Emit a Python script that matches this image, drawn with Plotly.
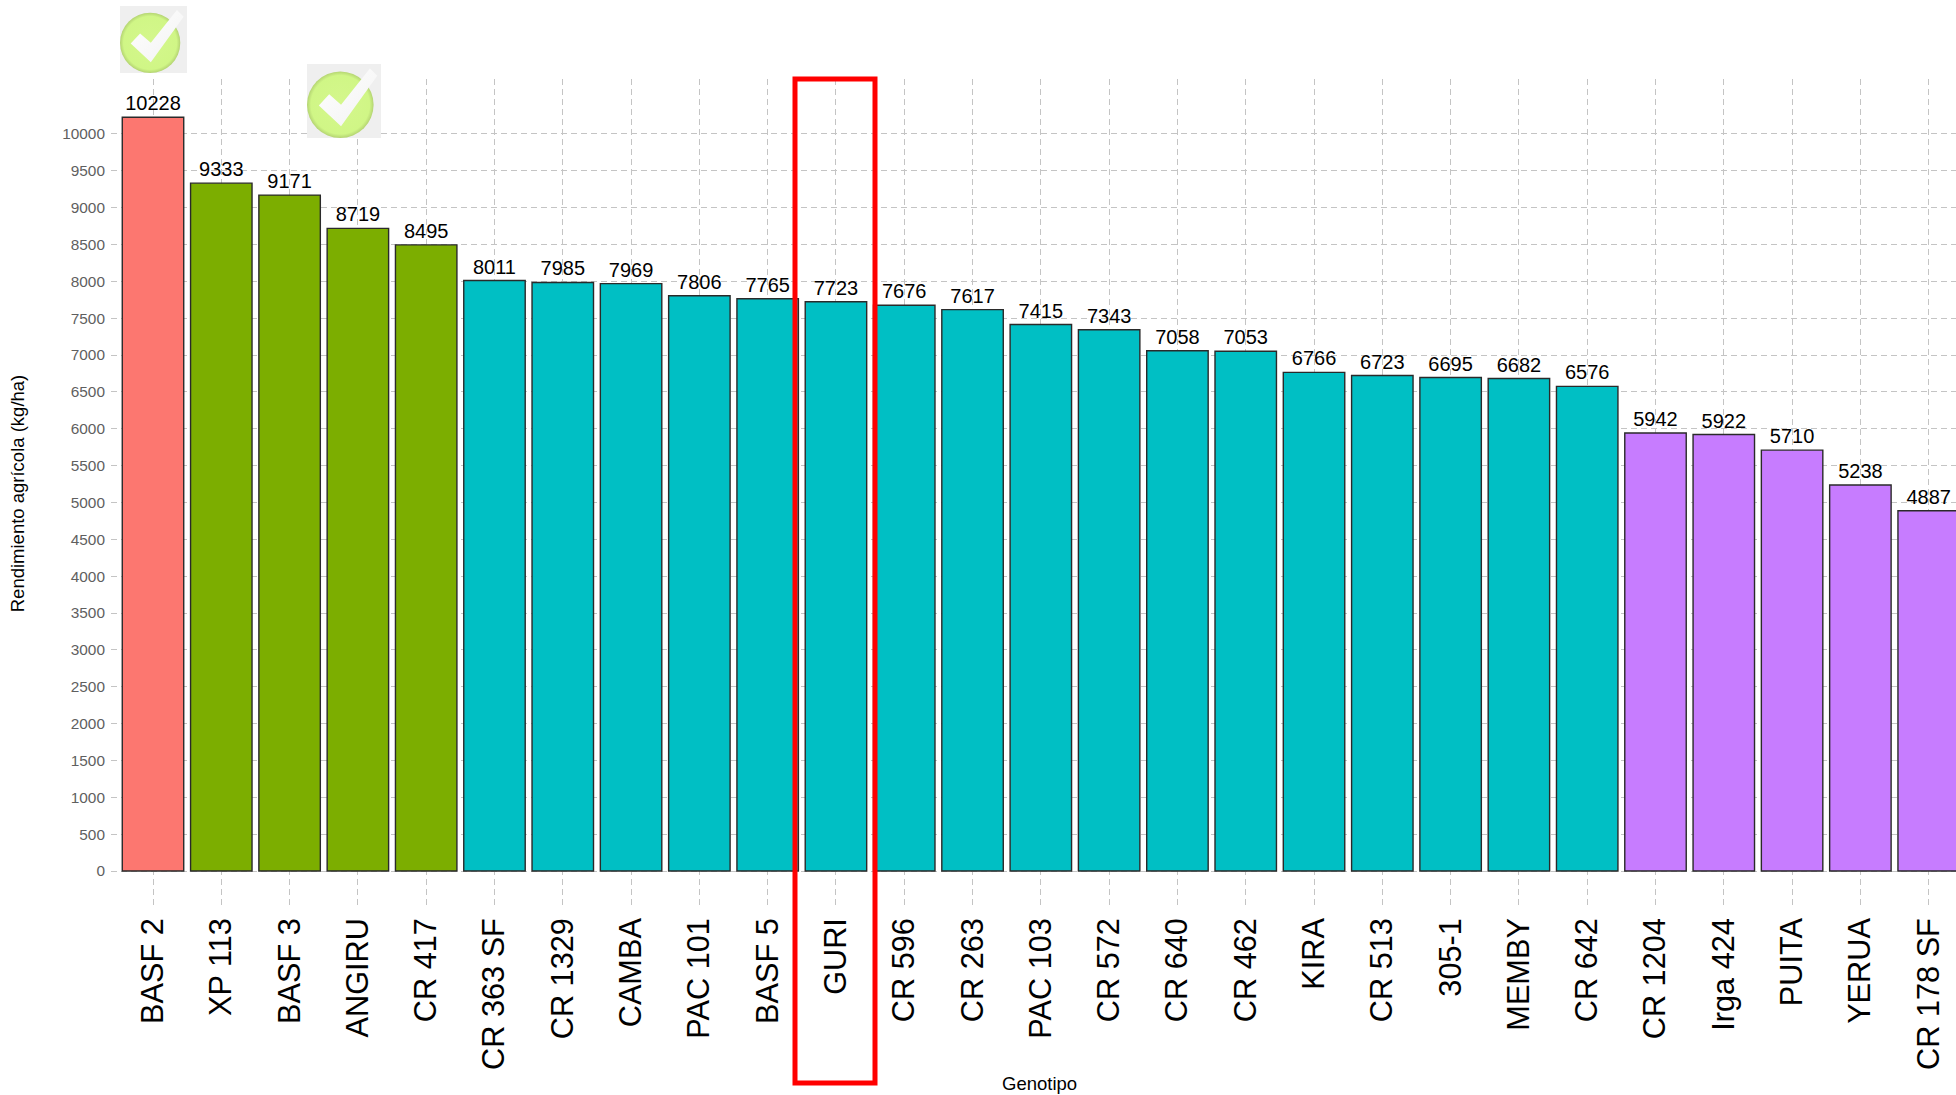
import base64
import plotly.graph_objects as go

categories = ["BASF 2","XP 113","BASF 3","ANGIRU","CR 417","CR 363 SF","CR 1329","CAMBA","PAC 101","BASF 5",
              "GURI","CR 596","CR 263","PAC 103","CR 572","CR 640","CR 462","KIRA","CR 513","305-1",
              "MEMBY","CR 642","CR 1204","Irga 424","PUITA","YERUA","CR 178 SF"]
values = [10228,9333,9171,8719,8495,8011,7985,7969,7806,7765,
          7723,7676,7617,7415,7343,7058,7053,6766,6723,6695,
          6682,6576,5942,5922,5710,5238,4887]
groups = ["a"] + ["b"]*4 + ["c"]*17 + ["d"]*5
group_colors = {"a":"#FC7770","b":"#7CAE00","c":"#00BFC4","d":"#C77CFF"}
y_ticks = list(range(0, 10001, 500))

W, H = 1956, 1095
L, R, T, B = 111, 0, 79, 187

CHECK_SVG = """<svg xmlns='http://www.w3.org/2000/svg' width='100' height='100' viewBox='0 0 100 100'>
<defs><radialGradient id='g' cx='50%' cy='50%' r='50%'>
<stop offset='0%' stop-color='#d4f78c'/><stop offset='88%' stop-color='#d0f686'/><stop offset='100%' stop-color='#b4d472'/></radialGradient>
<linearGradient id='w' x1='0' y1='0' x2='1' y2='1'><stop offset='0%' stop-color='#ffffff'/><stop offset='70%' stop-color='#f6f6f6'/><stop offset='100%' stop-color='#cfcfcf'/></linearGradient></defs>
<rect width='100' height='100' fill='#efefef'/>
<circle cx='45' cy='55' r='45' fill='url(#g)'/>
<path d='M16 56 L30 41 L46 55 L85 6 L95 16 L46 84 Z' fill='url(#w)'/>
</svg>"""
check_uri = "data:image/svg+xml;base64," + base64.b64encode(CHECK_SVG.encode()).decode()

def px_x(v): return (v - L) / (W - L - R)
def px_y(v): return 1 - (v - T) / (H - T - B)

fig = go.Figure(go.Bar(
    x=categories, y=values,
    width=0.9,
    marker=dict(color=[group_colors[g] for g in groups], line=dict(color="#2a2a2a", width=1.4)),
    text=[str(v) for v in values],
    textposition="outside",
    textangle=0,
    textfont=dict(family="Liberation Sans", size=20, color="#000000"),
    cliponaxis=False,
    showlegend=False,
))

grid = dict(showgrid=True, gridcolor="#c4c4c4", gridwidth=1, griddash="6px,4px", zeroline=False, showline=False)

fig.update_xaxes(
    type="category", categoryorder="array", categoryarray=categories,
    range=[-0.615, 26.4], tickangle=-90, ticks="", ticklabelstandoff=3,
    tickfont=dict(family="Liberation Sans", size=30.7, color="#000000"), **grid)
fig.update_yaxes(
    range=[-502, 10746], tickmode="array", tickvals=y_ticks, ticktext=[str(t) for t in y_ticks],
    ticks="", ticklabelstandoff=5, tickfont=dict(family="Liberation Sans", size=15.4, color="#5f5f5f"),
    title=dict(text="Rendimiento agrícola (kg/ha)", font=dict(family="Liberation Sans", size=18.5, color="#000000"), standoff=32),
    automargin=False, **grid)

fig.update_layout(
    width=W, height=H, autosize=False,
    margin=dict(l=L, r=R, t=T, b=B, pad=0),
    paper_bgcolor="#ffffff", plot_bgcolor="#ffffff",
    annotations=[dict(text="Genotipo", xref="paper", yref="paper", x=px_x(1039), y=px_y(1083),
                      xanchor="center", yanchor="middle", showarrow=False,
                      font=dict(family="Liberation Sans", size=18.5, color="#000000"))],
    shapes=[dict(type="rect", xref="paper", yref="paper", x0=px_x(795), x1=px_x(875), y0=px_y(1083), y1=px_y(79),
                 line=dict(color="#FF0000", width=5), fillcolor="rgba(0,0,0,0)", layer="above")],
    images=[
        dict(source=check_uri, xref="paper", yref="paper", x=px_x(120), y=px_y(6), sizex=67/(W-L-R), sizey=67/(H-T-B),
             xanchor="left", yanchor="top", sizing="stretch", layer="above"),
        dict(source=check_uri, xref="paper", yref="paper", x=px_x(307), y=px_y(64), sizex=74/(W-L-R), sizey=74/(H-T-B),
             xanchor="left", yanchor="top", sizing="stretch", layer="above"),
    ],
)

fig.write_html("out.html", config={"displayModeBar": False},
               post_script="document.body.style.margin='0';document.body.style.overflow='hidden';")
